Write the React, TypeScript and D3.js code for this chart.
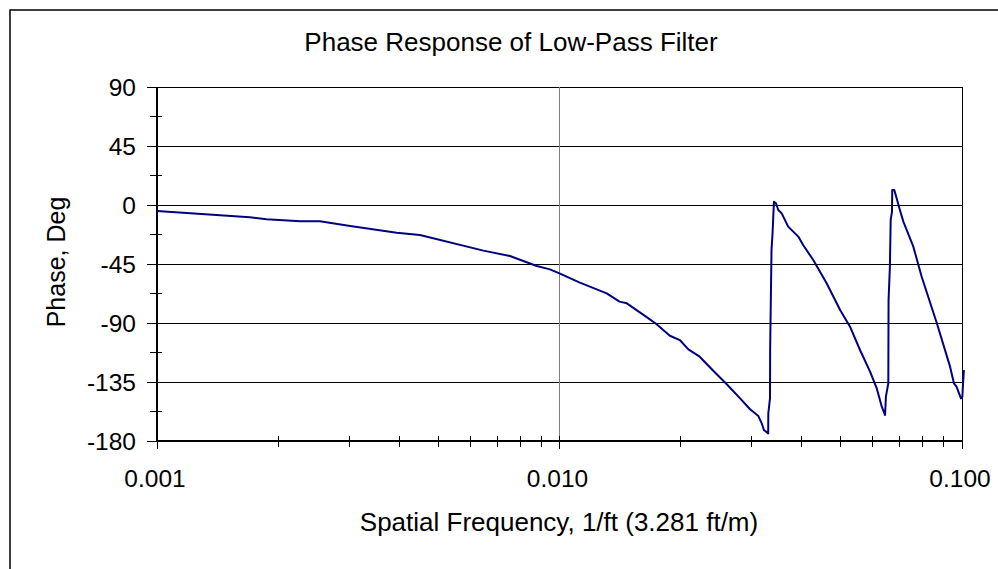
import React from "react";
import * as d3 from "d3";

const title = "Phase Response of Low-Pass Filter";
const xLabel = "Spatial Frequency, 1/ft (3.281 ft/m)";
const yLabel = "Phase, Deg";

const xMajorTicks = [0.001, 0.01, 0.1];
const xTickLabels = ["0.001", "0.010", "0.100"];
const xMinorMultipliers = [2, 3, 4, 5, 6, 7, 8, 9];
const yTicks = [90, 45, 0, -45, -90, -135, -180];
const yGridTicks = [90, 45, 0, -45, -90, -135];
const yMinorTicks = [67.5, 22.5, -22.5, -67.5, -112.5, -157.5];

const freq = [
  0.001, 0.0017, 0.00187, 0.00227, 0.00254, 0.00302, 0.00394, 0.0045, 0.00647, 0.00753,
  0.00878, 0.00947, 0.01, 0.0112, 0.0131, 0.0141, 0.0147, 0.0165, 0.0174, 0.0188,
  0.0199, 0.0209, 0.0223, 0.0241, 0.026, 0.0281, 0.0297, 0.0312, 0.0318, 0.0322,
  0.033, 0.03302, 0.03334, 0.03337, 0.03363, 0.03383, 0.0341, 0.0345, 0.03496, 0.03565,
  0.037, 0.0392, 0.0403, 0.0427, 0.0461, 0.0498, 0.0527, 0.0558, 0.0591, 0.0614,
  0.0632, 0.0644, 0.0647, 0.0656, 0.0657, 0.0662, 0.0665, 0.067, 0.0671, 0.0679,
  0.0688, 0.0701, 0.0715, 0.0729, 0.0757, 0.0794, 0.0866, 0.0934, 0.0955, 0.0969,
  0.0994, 0.1002, 0.1006, 0.1011,
];
const phase = [
  -4.6, -9.4, -10.9, -12.4, -12.4, -16.0, -21.1, -22.9, -34.8, -38.9,
  -46.5, -49.1, -52.1, -59.0, -67.4, -73.7, -75.0, -85.7, -90.8, -99.7,
  -103.0, -110.1, -115.7, -126.4, -136.5, -147.5, -155.6, -161.0, -166.5, -171.6,
  -174.2, -158.9, -147.5, -110.6, -34.3, -21.6, 2.5, 1.3, -3.8, -6.4,
  -16.5, -24.1, -30.5, -42.0, -59.7, -80.1, -92.8, -110.6, -127.1, -139.8,
  -153.8, -160.2, -146.2, -136.0, -72.5, -47.0, -11.4, -5.1, 11.4, 11.4,
  5.1, -3.8, -12.7, -19.1, -31.8, -54.7, -90.2, -123.3, -136.0, -138.6,
  -147.5, -146.2, -136.0, -125.9,
];

const W = 998;
const H = 569;
const left = 157;
const right = 962;
const top = 87;
const bottom = 441;
const font = "'Liberation Sans', Arial, sans-serif";

export default function App() {
  const x = d3.scaleLog().domain([0.001, 0.1]).range([left, right]);
  const y = d3.scaleLinear().domain([-180, 90]).range([bottom, top]);
  const data = freq.map((f, i) => [f, phase[i]] as [number, number]);
  const line = d3
    .line<[number, number]>()
    .x((d) => x(d[0]))
    .y((d) => y(d[1]));

  const minor: number[] = [];
  [0.001, 0.01].forEach((dec) => xMinorMultipliers.forEach((m) => minor.push(dec * m)));

  return (
    <svg
      width={W}
      height={H}
      style={{ position: "absolute", left: 0, top: 0, background: "#fff" }}
    >
      <rect x={0} y={0} width={W} height={H} fill="#fff" />
      <rect x={10} y={10} width={1004} height={620} fill="none" stroke="#000" strokeWidth={1.5} />
      <text x={511} y={51} textAnchor="middle" fontFamily={font} fontSize={26} fill="#000">
        {title}
      </text>
      <g shapeRendering="crispEdges">
        {yGridTicks.map((t) => (
          <line key={"g" + t} x1={left - 10} x2={right} y1={y(t)} y2={y(t)} stroke="#000" strokeWidth={1} />
        ))}
        <line x1={x(0.01)} x2={x(0.01)} y1={top} y2={bottom + 8} stroke="#808080" strokeWidth={1} />
        <line x1={x(0.1)} x2={x(0.1)} y1={top} y2={bottom + 8} stroke="#000" strokeWidth={1} />
        {yMinorTicks.map((t) => (
          <line key={"ym" + t} x1={left - 7} x2={left + 5} y1={y(t)} y2={y(t)} stroke="#000" strokeWidth={1} />
        ))}
        <line x1={left - 10} x2={left} y1={y(-180)} y2={y(-180)} stroke="#000" strokeWidth={1} />
        {minor.map((t) => (
          <line key={"xm" + t} x1={x(t)} x2={x(t)} y1={bottom - 5} y2={bottom + 6} stroke="#000" strokeWidth={1} />
        ))}
        {xMajorTicks.map((t) => (
          <line key={"xM" + t} x1={x(t)} x2={x(t)} y1={bottom - 5} y2={bottom + 8} stroke="#000" strokeWidth={1} />
        ))}
        <line x1={left} x2={left} y1={top} y2={bottom + 1} stroke="#000" strokeWidth={2} />
        <line x1={left} x2={right} y1={bottom} y2={bottom} stroke="#000" strokeWidth={2} />
      </g>
      <path d={line(data) || ""} fill="none" stroke="#000080" strokeWidth={2} strokeLinejoin="round" />
      {yTicks.map((t) => (
        <text key={"yl" + t} x={136} y={y(t) + 8.5} textAnchor="end" fontFamily={font} fontSize={24.5} fill="#000">
          {t}
        </text>
      ))}
      {xMajorTicks.map((t, i) => (
        <text key={"xl" + t} x={x(t) - 2} y={487} textAnchor="middle" fontFamily={font} fontSize={24.5} fill="#000">
          {xTickLabels[i]}
        </text>
      ))}
      <text x={559} y={531} textAnchor="middle" fontFamily={font} fontSize={26} fill="#000">
        {xLabel}
      </text>
      <text
        transform={`translate(65, ${(top + bottom) / 2 - 2}) rotate(-90)`}
        textAnchor="middle"
        fontFamily={font}
        fontSize={25}
        fill="#000"
      >
        {yLabel}
      </text>
    </svg>
  );
}
